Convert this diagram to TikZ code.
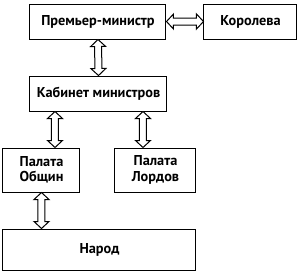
\documentclass[tikz,border=0pt]{standalone}
\usepackage{fontspec}
\setmainfont{PT Sans}
\usetikzlibrary{calc}
\tikzset{
  box/.style={draw=black, line width=1pt, fill=white, inner sep=0pt, align=center,
    font=\fontsize{14.3}{15.6}\selectfont\bfseries},
  dblarrow/.style={line width=1pt, fill=white, to path={
    let \p1=(\tikztostart), \p2=(\tikztotarget),
        \n1={veclen(\x2-\x1,\y2-\y1)},
        \n2={(\x2-\x1)/\n1}, \n3={(\y2-\y1)/\n1},
        \n4={7}, \n5={7.5}, \n6={3.5}, \n7={\n1-7}
    in
    ({\x1}, {\y1})
    -- ({\x1+\n4*\n2-\n5*\n3}, {\y1+\n4*\n3+\n5*\n2})
    -- ({\x1+\n4*\n2-\n6*\n3}, {\y1+\n4*\n3+\n6*\n2})
    -- ({\x1+\n7*\n2-\n6*\n3}, {\y1+\n7*\n3+\n6*\n2})
    -- ({\x1+\n7*\n2-\n5*\n3}, {\y1+\n7*\n3+\n5*\n2})
    -- ({\x2}, {\y2})
    -- ({\x1+\n7*\n2+\n5*\n3}, {\y1+\n7*\n3-\n5*\n2})
    -- ({\x1+\n7*\n2+\n6*\n3}, {\y1+\n7*\n3-\n6*\n2})
    -- ({\x1+\n4*\n2+\n6*\n3}, {\y1+\n4*\n3-\n6*\n2})
    -- ({\x1+\n4*\n2+\n5*\n3}, {\y1+\n4*\n3-\n5*\n2})
    -- cycle
  }}
}
\begin{document}
\begin{tikzpicture}[x=1pt, y=-1pt]
\useasboundingbox (0,0) rectangle (301,277);
\node[box, minimum width=136pt, minimum height=35pt] (pm) at (98,21.5) {Премьер-министр};
\node[box, minimum width=93pt, minimum height=35pt] (q) at (250.5,21.5) {Королева};
\node[box, minimum width=137pt, minimum height=35pt] (cab) at (98.5,93.5) {Кабинет министров};
\node[box, minimum width=77pt, minimum height=44pt] (obs) at (41.5,170) {Палата\\Общин};
\node[box, minimum width=81pt, minimum height=44pt] (lords) at (155.5,170) {Палата\\Лордов};
\node[box, minimum width=193pt, minimum height=41pt] (narod) at (99.5,249.5) {Народ};
\path (obs.north) ++(13.5,0) coordinate (a1);
\path (lords.north) ++(-12.5,0) coordinate (a2);
\draw[dblarrow] (pm.east) to (q.west);
\draw[dblarrow] (pm.south) to (cab.north);
\draw[dblarrow] (a1 |- cab.south) to (a1);
\draw[dblarrow] (a2 |- cab.south) to (a2);
\draw[dblarrow] (obs.south) to (obs.south |- narod.north);
\end{tikzpicture}
\end{document}
